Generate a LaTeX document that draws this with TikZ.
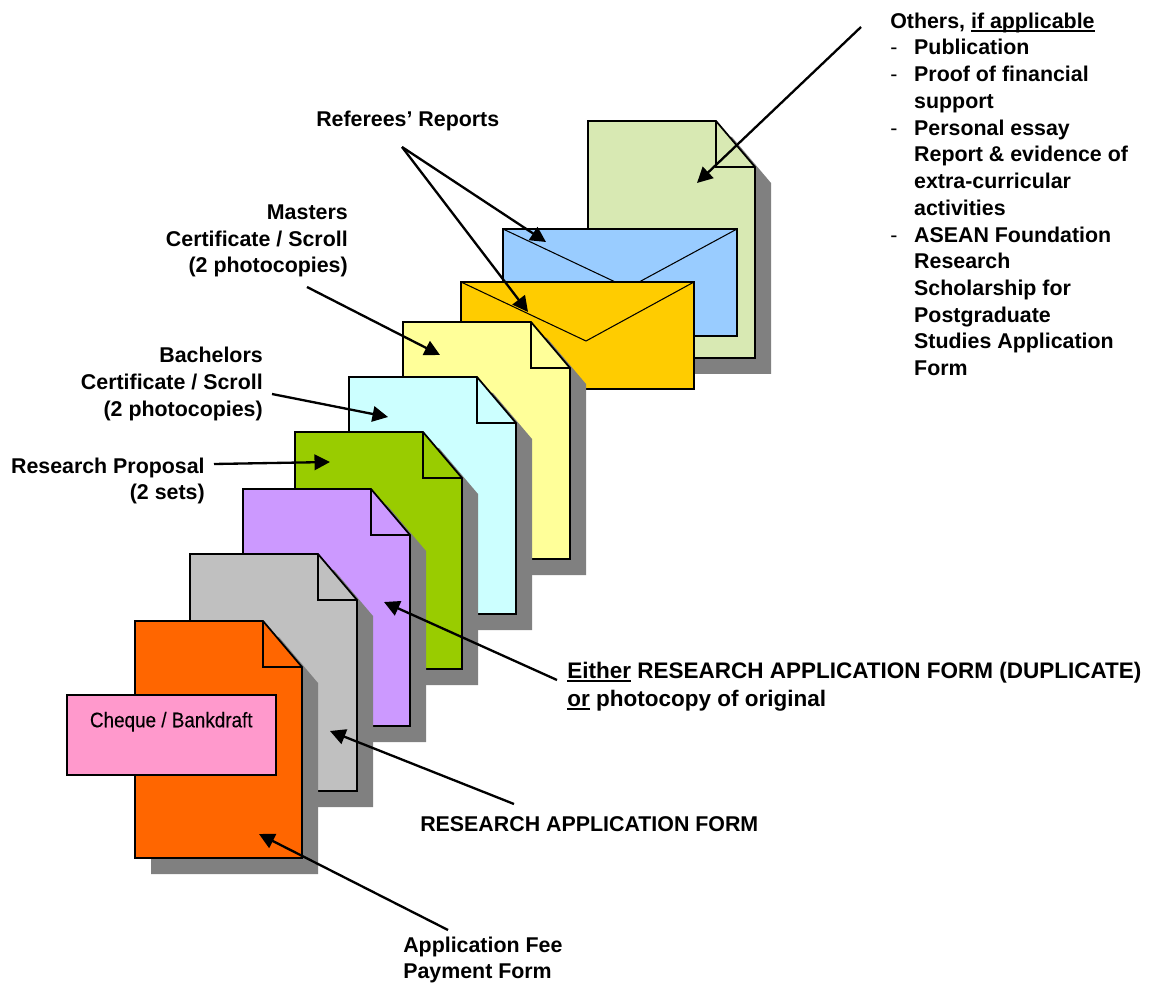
\documentclass[tikz,border=0pt]{standalone}
\usepackage{fontspec}
\setmainfont{Liberation Sans}
\newfontfamily\narrowfont[FakeStretch=0.895,FakeBold=0.2]{Liberation Sans}
\usepackage{xcolor}
\usetikzlibrary{arrows.meta,positioning}
\definecolor{formorange}{RGB}{255,102,0}
\definecolor{formgrey}{RGB}{192,192,192}
\definecolor{formpurple}{RGB}{204,153,255}
\definecolor{formgreen}{RGB}{153,204,0}
\definecolor{formcyan}{RGB}{204,255,255}
\definecolor{formyellow}{RGB}{255,255,153}
\definecolor{formpale}{RGB}{216,233,179}
\definecolor{envgold}{RGB}{255,204,0}
\definecolor{envblue}{RGB}{153,204,255}
\definecolor{chequepink}{RGB}{255,153,204}
\definecolor{sheetshadow}{RGB}{128,128,128}
\tikzstyle{sheet} = [draw=black, line width=1.25pt, line join=miter]
\tikzstyle{foldline} = [draw=black, line width=1.25pt]
\tikzstyle{flapline} = [draw=black, line width=0.75pt]
\tikzstyle{pointer} = [line width=1.65pt, black, -{Triangle[length=11pt,width=11pt]}]
\tikzstyle{caption} = [inner sep=0pt, font=\fontsize{15.2}{19}\selectfont\bfseries, align=left]
\tikzstyle{bigcaption} = [inner sep=0pt, font=\fontsize{16}{19.9}\selectfont\bfseries, align=left]
\tikzstyle{chequebox} = [draw=black, line width=1.25pt, fill=chequepink, inner sep=0pt, minimum width=5.22cm, minimum height=2.01cm, align=center, font=\fontsize{15}{16}\narrowfont]
% one sheet with a folded corner: left, top, colour
\newcommand{\docsheet}[3]{
  \fill[sheetshadow] (#1+16,#2+16) -- (#1+144,#2+16) -- (#1+183,#2+62) -- (#1+183,#2+253) -- (#1+16,#2+253) -- cycle;
  \draw[sheet, fill=#3] (#1,#2) -- (#1+128,#2) -- (#1+167,#2+46) -- (#1+167,#2+237) -- (#1,#2+237) -- cycle;
  \draw[foldline] (#1+128,#2) -- (#1+128,#2+46) -- (#1+167,#2+46);
}
% heavy underline, dash of the list
\newcommand{\ulined}[1]{\leavevmode\setbox0\hbox{#1}\rlap{\rule[-2.6pt]{\wd0}{1.5pt}}\box0\relax}
\newcommand{\listdash}{\makebox[17pt][l]{\mdseries -}}
\newcommand{\listgap}{\hspace*{17pt}}
\begin{document}
\begin{tikzpicture}[x=0.025cm, y=-0.025cm]
\useasboundingbox (0,0) rectangle (1149,983);

% sheets and envelopes, back to front
\docsheet{588}{121}{formpale}
\draw[sheet, fill=envblue] (503,229) rectangle (737,336);
\draw[flapline] (503,229) -- (628,288) -- (737,229);
\draw[sheet, fill=envgold] (461,282) rectangle (694,389);
\draw[flapline] (461,282) -- (586,341) -- (694,282);
\docsheet{403}{322}{formyellow}
\docsheet{349}{377}{formcyan}
\docsheet{295}{432}{formgreen}
\docsheet{243}{489}{formpurple}
\docsheet{190}{554}{formgrey}
\docsheet{135}{621}{formorange}
\node (cheque) [chequebox, anchor=north west] at (66,694) {Cheque / Bankdraft\\[6pt]\mbox{}};

% labels
\node (others) [caption, anchor=north west] at (890,12.5) {Others, \ulined{if applicable}\\
\listdash Publication\\
\listdash Proof of financial\\
\listgap support\\
\listdash Personal essay\\
\listgap Report \& evidence of\\
\listgap extra-curricular\\
\listgap activities\\
\listdash ASEAN Foundation\\
\listgap Research\\
\listgap Scholarship for\\
\listgap Postgraduate\\
\listgap Studies Application\\
\listgap Form};
\node (referees) [caption, anchor=west] at (316,121) {Referees’ Reports};
\node (masters) [caption, anchor=east, align=right] at (348,241) {Masters\\Certificate / Scroll\\(2 photocopies)};
\node (bachelors) [caption, anchor=east, align=right] at (263,384) {Bachelors\\Certificate / Scroll\\(2 photocopies)};
\node (proposal) [caption, anchor=east, align=right] at (205,481) {Research Proposal\\(2 sets)};
\node (either) [bigcaption, anchor=west] at (567,687) {\ulined{Either} RESEARCH APPLICATION FORM (DUPLICATE)\\\ulined{or} photocopy of original};
\node (original) [caption, anchor=west] at (420,824) {RESEARCH APPLICATION FORM};
\node (payment) [caption, anchor=west] at (403,960) {Application Fee\\Payment Form};

% free ends of the arrows
\coordinate (othersfrom) at (861,27);
\coordinate (othersto) at (697,183);
\coordinate (refereesfrom) at (402,147);
\coordinate (blueto) at (546,242);
\coordinate (goldto) at (528,312);
\coordinate (mastersfrom) at (307,287);
\coordinate (mastersto) at (440,355);
\coordinate (bachelorsfrom) at (272,394);
\coordinate (bachelorsto) at (388,417);
\coordinate (proposalfrom) at (214,464);
\coordinate (proposalto) at (330,462);
\coordinate (eitherfrom) at (557,680);
\coordinate (eitherto) at (384,602);
\coordinate (originalfrom) at (514,804);
\coordinate (originalto) at (330,731);
\coordinate (paymentfrom) at (448,930);
\coordinate (paymentto) at (259,834);

\draw[pointer] (othersfrom) -- (othersto);
\draw[pointer] (refereesfrom) -- (blueto);
\draw[pointer] (refereesfrom) -- (goldto);
\draw[pointer] (mastersfrom) -- (mastersto);
\draw[pointer] (bachelorsfrom) -- (bachelorsto);
\draw[pointer] (proposalfrom) -- (proposalto);
\draw[pointer] (eitherfrom) -- (eitherto);
\draw[pointer] (originalfrom) -- (originalto);
\draw[pointer] (paymentfrom) -- (paymentto);
\end{tikzpicture}
\end{document}
